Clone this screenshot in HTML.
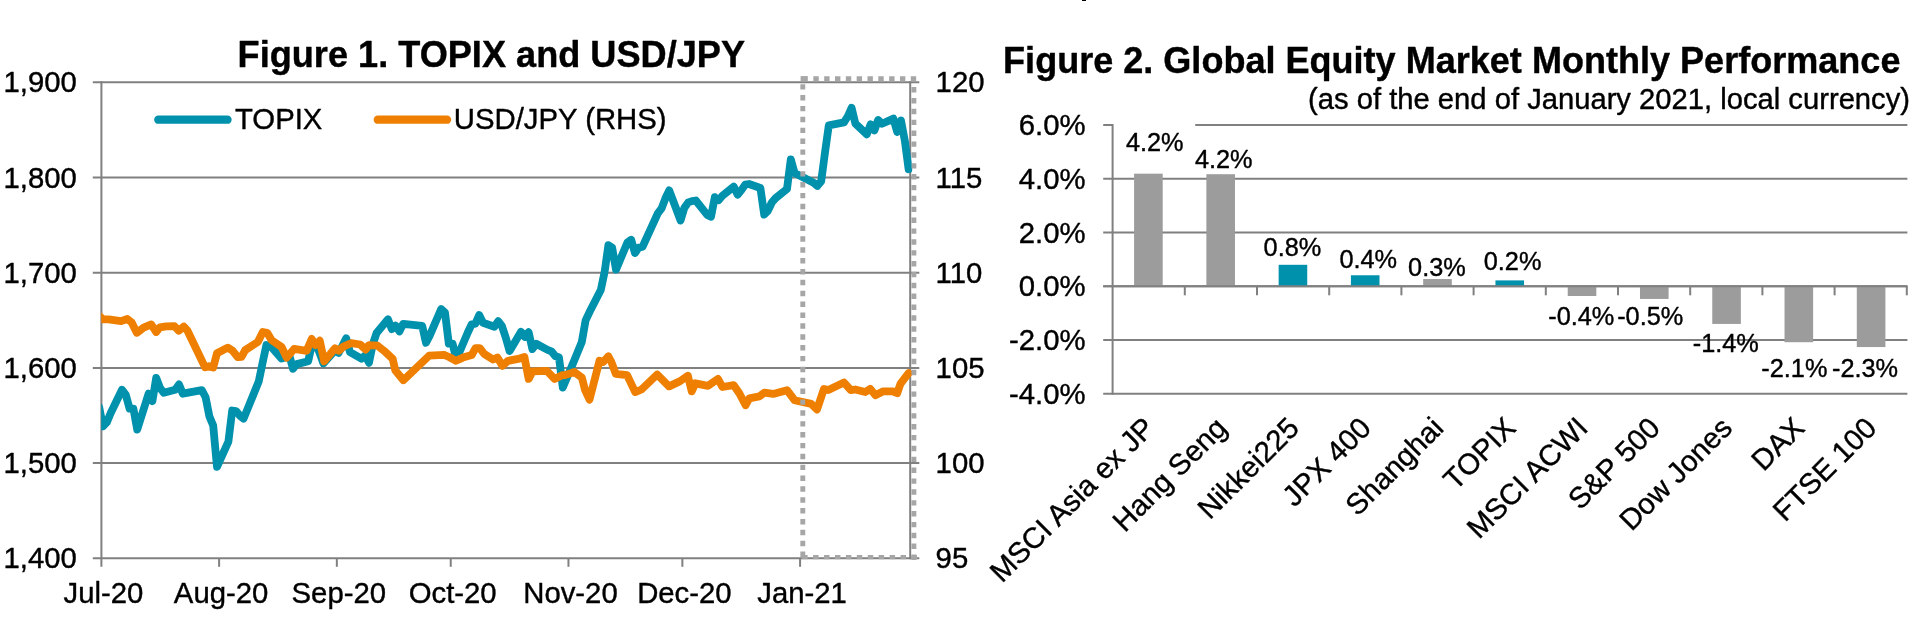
<!DOCTYPE html><html><head><meta charset="utf-8"><title>Figures</title><style>html,body{margin:0;padding:0;background:#fff;}body{width:1920px;height:638px;overflow:hidden;font-family:"Liberation Sans",sans-serif;}svg{display:block;will-change:transform;}text{font-family:"Liberation Sans",sans-serif;fill:#000;stroke:#000;stroke-width:0.4px;stroke-linejoin:round;}</style></head><body>
<svg width="1920" height="638" viewBox="0 0 1920 638">
<rect x="0" y="0" width="1920" height="638" fill="#fff"/>
<rect x="1082" y="0" width="4" height="1" fill="#000"/>
<g stroke="#808080" stroke-width="2.0" fill="none">
<line x1="92.8" y1="82.30" x2="919.3" y2="82.30"/>
<line x1="92.8" y1="177.50" x2="919.3" y2="177.50"/>
<line x1="92.8" y1="272.70" x2="919.3" y2="272.70"/>
<line x1="92.8" y1="367.90" x2="919.3" y2="367.90"/>
<line x1="92.8" y1="463.10" x2="919.3" y2="463.10"/>
<line x1="92.8" y1="558.30" x2="919.3" y2="558.30"/>
<line x1="101.4" y1="81.3" x2="101.4" y2="566.8"/>
<line x1="910.2" y1="81.3" x2="910.2" y2="559.3"/>
<line x1="219.11" y1="558.3" x2="219.11" y2="566.8"/>
<line x1="336.83" y1="558.3" x2="336.83" y2="566.8"/>
<line x1="450.74" y1="558.3" x2="450.74" y2="566.8"/>
<line x1="568.45" y1="558.3" x2="568.45" y2="566.8"/>
<line x1="682.37" y1="558.3" x2="682.37" y2="566.8"/>
<line x1="800.08" y1="558.3" x2="800.08" y2="566.8"/>
</g>
<clipPath id="cp"><rect x="101.2" y="60" width="811.2" height="520"/></clipPath>
<g clip-path="url(#cp)" fill="none" stroke-linejoin="round" stroke-linecap="round" stroke-width="7.8">
<path d="M99.2,407.2 L103.0,426.4 L106.8,422.4 L110.6,413.3 L122.0,389.7 L125.8,394.9 L129.6,408.6 L133.4,408.6 L137.2,429.6 L148.6,393.6 L152.4,401.1 L156.2,377.9 L160.0,387.9 L163.8,392.8 L175.2,389.8 L179.0,384.4 L182.8,393.7 L201.8,390.1 L205.6,397.3 L209.4,416.4 L213.2,425.6 L217.0,466.9 L228.4,441.6 L232.2,410.5 L236.0,411.0 L239.8,415.6 L243.6,418.6 L258.8,381.3 L262.6,362.7 L266.4,345.0 L270.2,345.7 L281.6,358.6 L285.4,357.6 L289.2,354.9 L293.0,368.7 L296.8,364.1 L308.2,361.2 L312.0,343.9 L315.8,344.6 L319.6,352.8 L323.4,363.3 L334.8,350.6 L338.6,352.9 L342.4,345.7 L346.2,338.2 L350.0,352.1 L361.4,358.7 L365.2,355.5 L369.0,362.8 L372.8,344.3 L376.6,333.1 L388.0,319.3 L391.8,329.1 L395.6,325.7 L399.4,331.4 L403.2,323.8 L422.2,325.8 L426.0,342.8 L429.8,335.4 L441.2,309.0 L445.0,312.6 L448.8,343.7 L452.6,343.7 L456.4,359.2 L467.8,332.5 L471.6,324.4 L475.4,323.7 L479.2,315.1 L483.0,322.8 L494.4,326.7 L498.2,321.2 L502.0,326.2 L505.8,337.7 L509.6,351.1 L521.0,331.8 L524.8,337.0 L528.6,332.2 L532.4,349.1 L536.2,343.8 L547.6,349.9 L551.4,351.3 L555.2,356.0 L559.0,357.5 L562.8,387.6 L574.2,360.4 L581.8,342.0 L585.6,320.4 L589.4,312.3 L600.8,290.0 L604.6,272.0 L608.4,245.1 L612.2,247.8 L616.0,269.7 L627.4,242.5 L631.2,239.8 L635.0,253.1 L638.8,247.6 L642.6,246.7 L657.8,213.4 L661.6,208.4 L665.4,198.3 L669.2,190.4 L680.6,220.5 L684.4,207.7 L688.2,202.4 L692.0,201.1 L695.8,200.5 L707.2,214.9 L711.0,216.8 L714.8,197.2 L718.6,200.2 L722.4,195.8 L733.8,186.6 L737.6,194.7 L741.4,190.1 L745.2,184.6 L749.0,184.0 L760.4,188.0 L764.2,214.6 L768.0,210.7 L771.8,202.5 L775.6,198.1 L787.0,189.0 L790.8,159.3 L794.6,173.1 L813.6,182.7 L817.4,185.9 L821.2,181.2 L825.0,152.5 L828.8,125.3 L844.0,122.4 L847.8,116.3 L851.6,107.8 L855.4,123.7 L866.8,134.3 L870.6,124.4 L874.4,130.4 L878.2,119.9 L882.0,123.7 L893.4,118.6 L897.2,131.9 L901.0,120.4 L904.8,140.6 L908.6,169.2" stroke="#0091ad"/>
<path d="M99.2,315.8 L103.0,319.4 L108.5,319.4 L121.1,321.1 L127.3,319.0 L131.7,322.6 L136.8,332.8 L143.6,327.6 L151.2,324.4 L156.2,332.0 L159.9,327.3 L166.2,326.3 L174.4,326.1 L178.8,330.7 L183.8,326.6 L187.5,330.7 L205.1,367.4 L208.9,366.2 L213.2,367.4 L217.0,353.3 L227.7,347.6 L232.7,350.8 L237.7,357.2 L241.5,356.8 L245.2,350.1 L257.8,342.0 L262.8,332.0 L267.2,332.8 L271.5,340.1 L281.6,347.0 L286.6,357.7 L290.4,353.3 L294.1,348.9 L306.7,350.8 L311.7,338.9 L315.4,345.1 L319.8,340.7 L324.2,361.4 L335.0,348.2 L338.8,350.7 L343.8,346.3 L351.3,343.2 L360.1,344.5 L365.7,349.5 L368.9,345.1 L377.6,345.7 L383.9,350.7 L392.7,358.9 L395.2,370.2 L403.4,380.2 L429.1,355.7 L444.1,354.9 L449.1,357.0 L456.0,360.8 L462.9,357.6 L471.7,355.1 L475.5,348.2 L479.8,348.2 L484.2,353.9 L493.0,359.5 L497.4,357.6 L502.4,365.8 L508.1,360.8 L518.1,358.9 L524.4,357.0 L528.7,378.9 L532.5,371.4 L546.9,370.8 L554.5,378.9 L562.0,375.2 L565.0,375.1 L574.4,372.0 L581.9,377.6 L585.1,390.2 L589.5,399.6 L599.5,360.7 L603.3,362.0 L608.3,356.3 L611.4,362.0 L615.8,373.9 L627.1,375.1 L635.2,392.1 L641.5,389.5 L657.2,374.5 L669.1,386.4 L679.7,381.4 L687.9,375.8 L691.7,391.4 L695.4,383.3 L708.0,385.8 L718.0,378.9 L722.4,387.0 L733.7,385.2 L739.3,393.3 L745.6,405.2 L749.3,398.3 L759.4,396.4 L764.4,392.7 L773.2,393.9 L787.0,390.2 L794.5,400.2 L811.3,403.9 L817.0,409.6 L823.9,388.9 L828.3,390.1 L844.0,382.6 L850.8,390.1 L855.2,389.5 L865.3,392.0 L870.3,388.9 L875.3,395.2 L882.8,391.4 L892.9,391.4 L897.2,393.3 L900.4,383.9 L908.6,373.2" stroke="#ee7f00"/>
</g>
<g stroke="#a6a6a6" stroke-width="4.9" fill="none" stroke-dasharray="5.45 5.45">
<line x1="813.3599999999999" y1="78.7" x2="916.3" y2="78.7" stroke-dasharray="5.4 5.425"/>
<rect x="800.6" y="76.1" width="7.2" height="5.2" fill="#a6a6a6" stroke="none"/>
<line x1="913.9" y1="87.075" x2="913.9" y2="560" stroke-dasharray="5.435 5.435"/>
<line x1="916.9250000000001" y1="557.1" x2="800.2" y2="557.1" stroke-width="4.4" stroke-dasharray="5.465 5.465"/>
<line x1="802.8" y1="84.1825" x2="802.8" y2="560" stroke-dasharray="5.435 5.435"/>
</g>
<g font-size="29.3">
<text x="76.9" y="92.4" text-anchor="end">1,900</text>
<text x="76.9" y="187.6" text-anchor="end">1,800</text>
<text x="76.9" y="282.8" text-anchor="end">1,700</text>
<text x="76.9" y="378.0" text-anchor="end">1,600</text>
<text x="76.9" y="473.2" text-anchor="end">1,500</text>
<text x="76.9" y="568.4" text-anchor="end">1,400</text>
<text x="935.6" y="92.4">120</text>
<text x="935.6" y="187.6">115</text>
<text x="935.6" y="282.8">110</text>
<text x="935.6" y="378.0">105</text>
<text x="935.6" y="473.2">100</text>
<text x="935.6" y="568.4">95</text>
<text x="103.4" y="602.7" text-anchor="middle">Jul-20</text>
<text x="221.1" y="602.7" text-anchor="middle">Aug-20</text>
<text x="338.8" y="602.7" text-anchor="middle">Sep-20</text>
<text x="452.7" y="602.7" text-anchor="middle">Oct-20</text>
<text x="570.5" y="602.7" text-anchor="middle">Nov-20</text>
<text x="684.4" y="602.7" text-anchor="middle">Dec-20</text>
<text x="802.1" y="602.7" text-anchor="middle">Jan-21</text>
<text x="235.0" y="129.2">TOPIX</text>
<text x="453.8" y="129.2">USD/JPY (RHS)</text>
</g>
<line x1="158.3" y1="119.7" x2="227.5" y2="119.7" stroke="#0091ad" stroke-width="8.3" stroke-linecap="round"/>
<line x1="377.8" y1="119.7" x2="447" y2="119.7" stroke="#ee7f00" stroke-width="8.3" stroke-linecap="round"/>
<text x="491.3" y="67.3" font-size="36.15" font-weight="bold" text-anchor="middle">Figure 1. TOPIX and USD/JPY</text>
<g stroke="#808080" stroke-width="2.0" fill="none">
<line x1="1195.2" y1="125.02" x2="1907.4" y2="125.02"/>
<line x1="1103.2" y1="125.02" x2="1112.6" y2="125.02"/>
<line x1="1103.2" y1="178.78" x2="1907.4" y2="178.78"/>
<line x1="1103.2" y1="232.54" x2="1907.4" y2="232.54"/>
<line x1="1103.2" y1="286.30" x2="1907.4" y2="286.30"/>
<line x1="1103.2" y1="340.06" x2="1907.4" y2="340.06"/>
<line x1="1103.2" y1="393.82" x2="1907.4" y2="393.82"/>
<line x1="1112.6" y1="124.02" x2="1112.6" y2="394.82"/>
<line x1="1184.80" y1="286.3" x2="1184.80" y2="295.3"/>
<line x1="1257.00" y1="286.3" x2="1257.00" y2="295.3"/>
<line x1="1329.20" y1="286.3" x2="1329.20" y2="295.3"/>
<line x1="1401.40" y1="286.3" x2="1401.40" y2="295.3"/>
<line x1="1473.60" y1="286.3" x2="1473.60" y2="295.3"/>
<line x1="1545.80" y1="286.3" x2="1545.80" y2="295.3"/>
<line x1="1618.00" y1="286.3" x2="1618.00" y2="295.3"/>
<line x1="1690.20" y1="286.3" x2="1690.20" y2="295.3"/>
<line x1="1762.40" y1="286.3" x2="1762.40" y2="295.3"/>
<line x1="1834.60" y1="286.3" x2="1834.60" y2="295.3"/>
<line x1="1906.80" y1="286.3" x2="1906.80" y2="295.3"/>
</g>
<rect x="1134.10" y="173.67" width="28.6" height="112.63" fill="#9c9c9c"/>
<rect x="1206.37" y="174.21" width="28.6" height="112.09" fill="#9c9c9c"/>
<rect x="1278.64" y="264.80" width="28.6" height="21.50" fill="#0091ad"/>
<rect x="1350.91" y="275.28" width="28.6" height="11.02" fill="#0091ad"/>
<rect x="1423.18" y="279.04" width="28.6" height="7.26" fill="#9c9c9c"/>
<rect x="1495.45" y="280.39" width="28.6" height="5.91" fill="#0091ad"/>
<rect x="1567.72" y="286.30" width="28.6" height="9.68" fill="#9c9c9c"/>
<rect x="1639.99" y="286.30" width="28.6" height="12.63" fill="#9c9c9c"/>
<rect x="1712.26" y="286.30" width="28.6" height="37.63" fill="#9c9c9c"/>
<rect x="1784.53" y="286.30" width="28.6" height="55.91" fill="#9c9c9c"/>
<rect x="1856.80" y="286.30" width="28.6" height="60.75" fill="#9c9c9c"/>
<line x1="1103.2" y1="286.30" x2="1907.4" y2="286.30" stroke="#808080" stroke-width="2.0"/>
<g font-size="29.3">
<text x="1085.5" y="135.1" text-anchor="end">6.0%</text>
<text x="1085.5" y="188.9" text-anchor="end">4.0%</text>
<text x="1085.5" y="242.6" text-anchor="end">2.0%</text>
<text x="1085.5" y="296.4" text-anchor="end">0.0%</text>
<text x="1085.5" y="350.2" text-anchor="end">-2.0%</text>
<text x="1085.5" y="403.9" text-anchor="end">-4.0%</text>
</g>
<g font-size="25.3" text-anchor="middle">
<text x="1154.8" y="151.0">4.2%</text>
<text x="1223.8" y="168.3">4.2%</text>
<text x="1292.4" y="256">0.8%</text>
<text x="1368.3" y="268.3">0.4%</text>
<text x="1436.9" y="276">0.3%</text>
<text x="1512.6" y="270">0.2%</text>
<text x="1581.3" y="325.3">-0.4%</text>
<text x="1650.2" y="325.3">-0.5%</text>
<text x="1725.8" y="352">-1.4%</text>
<text x="1794.4" y="377">-2.1%</text>
<text x="1865.0" y="377">-2.3%</text>
</g>
<g font-size="29.3" text-anchor="end">
<text transform="translate(1156.3,429.6) rotate(-45)" x="0" y="0">MSCI Asia ex JP</text>
<text transform="translate(1228.5,429.6) rotate(-45)" x="0" y="0">Hang Seng</text>
<text transform="translate(1300.7,429.6) rotate(-45)" x="0" y="0">Nikkei225</text>
<text transform="translate(1372.9,429.6) rotate(-45)" x="0" y="0">JPX 400</text>
<text transform="translate(1445.1,429.6) rotate(-45)" x="0" y="0">Shanghai</text>
<text transform="translate(1517.3,429.6) rotate(-45)" x="0" y="0">TOPIX</text>
<text transform="translate(1589.5,429.6) rotate(-45)" x="0" y="0">MSCI ACWI</text>
<text transform="translate(1661.7,429.6) rotate(-45)" x="0" y="0">S&amp;P 500</text>
<text transform="translate(1733.9,429.6) rotate(-45)" x="0" y="0">Dow Jones</text>
<text transform="translate(1806.1,429.6) rotate(-45)" x="0" y="0">DAX</text>
<text transform="translate(1878.3,429.6) rotate(-45)" x="0" y="0">FTSE 100</text>
</g>
<text x="1003.1" y="72.7" font-size="36.05" font-weight="bold" >Figure 2. Global Equity Market Monthly Performance</text>
<text x="1910" y="108.5" font-size="29.2" text-anchor="end">(as of the end of January 2021, local currency)</text>
</svg></body></html>
